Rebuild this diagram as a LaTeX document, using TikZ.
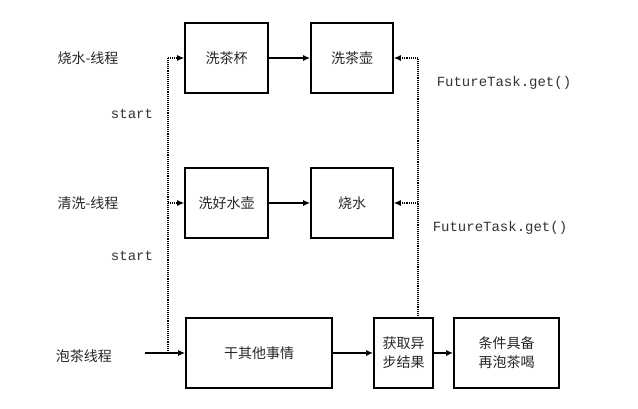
\documentclass[tikz,border=0pt]{standalone}
\usepackage{fontspec}
\setmonofont{Liberation Mono}
\newfontfamily\cjk{Noto Sans CJK SC}
\usetikzlibrary{arrows.meta}
\begin{document}
\begin{tikzpicture}[x=1pt,y=-1pt,
  box/.style={draw,line width=1.6pt,minimum height=70pt,inner sep=0pt,font=\cjk\fontsize{14}{19}\selectfont,align=center,text=black!85},
  lbl/.style={font=\cjk\fontsize{14}{16}\selectfont,inner sep=0pt,text=black!85},
  mono/.style={font=\ttfamily\fontsize{14}{16}\selectfont,inner sep=0pt,text=black!80},
  solidarr/.style={line width=1.6pt,-{Latex[length=7pt,width=6pt]}},
  dotarr/.style={line width=1.1pt,densely dotted,-{Latex[length=7pt,width=6pt]}},
  dotline/.style={line width=1.1pt,densely dotted}]
\useasboundingbox (0,0) rectangle (638,409);
\node[box,minimum width=83pt] (b1) at (226.5,58) {洗茶杯};
\node[box,minimum width=82pt] (b2) at (352,58) {洗茶壶};
\node[box,minimum width=83pt] (b3) at (226.5,203) {洗好水壶};
\node[box,minimum width=82pt] (b4) at (352,203) {烧水};
\node[box,minimum width=146pt] (b5) at (259,353) {干其他事情};
\node[box,minimum width=59pt] (b6) at (403.5,353) {获取异\\步结果};
\node[box,minimum width=105pt] (b7) at (506.5,353) {条件具备\\再泡茶喝};
\node[lbl] (l1) at (88,58) {烧水-线程};
\node[lbl] (l2) at (88,203) {清洗-线程};
\node[lbl] (l3) at (84,356) {泡茶线程};
\node[mono] (s1) at (132,114) {start};
\node[mono] (s2) at (132,256) {start};
\node[mono] (f1) at (504,83) {FutureTask.get()};
\node[mono] (f2) at (500,228) {FutureTask.get()};
\coordinate (m0) at (145,353);
\coordinate (m1) at (168,353);
\coordinate (t1) at (168,58);
\coordinate (t2) at (168,203);
\coordinate (r0) at (418,318);
\coordinate (r1) at (418,58);
\coordinate (r2) at (418,203);
\draw[solidarr] (b1) -- (b2);
\draw[solidarr] (b3) -- (b4);
\draw[solidarr] (m0) -- (b5.west);
\draw[solidarr] (b5) -- (b6);
\draw[solidarr] (b6) -- (b7);
\draw[dotline] (m1) -- (t1);
\draw[dotarr] (t1) -- (b1.west);
\draw[dotarr] (t2) -- (b3.west);
\draw[dotline] (r0) -- (r1);
\draw[dotarr] (r1) -- (b2.east);
\draw[dotarr] (r2) -- (b4.east);
\end{tikzpicture}
\end{document}
